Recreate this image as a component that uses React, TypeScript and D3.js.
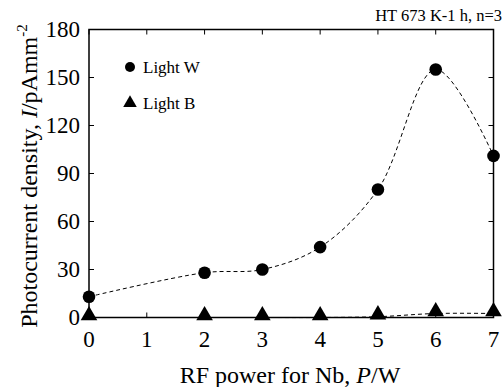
import React from "react";
import * as d3 from "d3";

const powers = [0, 2, 3, 4, 5, 6, 7];
const lightW = [13, 28, 30, 44, 80, 155, 101];
const lightB = [0, 0, 0, 0, 0.5, 2.5, 2.5];
const xTicks = [0, 1, 2, 3, 4, 5, 6, 7];
const yTicks = [0, 30, 60, 90, 120, 150, 180];

const W = 503;
const H = 387;
const M = { left: 89, right: 493.5, top: 29.5, bottom: 317.5 };
const FONT = "Liberation Serif, serif";

export default function App() {
  const x = d3.scaleLinear().domain([0, 7]).range([M.left, M.right]);
  const y = d3.scaleLinear().domain([0, 180]).range([M.bottom, M.top]);
  const line = d3
    .line<number>()
    .x((_, i) => x(powers[i]))
    .y((d) => y(d))
    .curve(d3.curveCatmullRom.alpha(0.5));
  const tri = d3.symbol(d3.symbolTriangle, 120)();
  const triSmall = d3.symbol(d3.symbolTriangle, 80)();
  const tl = 5;
  return (
    <svg
      width={W}
      height={H}
      style={{ position: "absolute", left: 0, top: 0, background: "#fff", fontFamily: FONT }}
    >
      <rect x={0} y={0} width={W} height={H} fill="#fff" />
      <path d={line(lightW) || ""} fill="none" stroke="#000" strokeWidth={1} strokeDasharray="4,3" />
      <path d={line(lightB) || ""} fill="none" stroke="#000" strokeWidth={1} strokeDasharray="4,3" />
      <rect
        x={M.left}
        y={M.top}
        width={M.right - M.left}
        height={M.bottom - M.top}
        fill="none"
        stroke="#000"
        strokeWidth={1.5}
      />
      {xTicks.map((t) => (
        <g key={"x" + t}>
          <line x1={x(t)} x2={x(t)} y1={M.bottom} y2={M.bottom - tl} stroke="#000" strokeWidth={1} />
          <line x1={x(t)} x2={x(t)} y1={M.top} y2={M.top + tl} stroke="#000" strokeWidth={1} />
          <text x={x(t)} y={347} fontSize={23} textAnchor="middle" fill="#000" fontFamily={FONT}>
            {t}
          </text>
        </g>
      ))}
      {yTicks.map((t) => (
        <g key={"y" + t}>
          <line x1={M.left} x2={M.left + tl} y1={y(t)} y2={y(t)} stroke="#000" strokeWidth={1} />
          <line x1={M.right} x2={M.right - tl} y1={y(t)} y2={y(t)} stroke="#000" strokeWidth={1} />
          <text x={80} y={y(t) + 7.8} fontSize={23} textAnchor="end" fill="#000" fontFamily={FONT}>
            {t}
          </text>
        </g>
      ))}
      {lightW.map((v, i) => (
        <circle key={"w" + i} cx={x(powers[i])} cy={y(v)} r={6.3} fill="#000" />
      ))}
      {lightB.map((v, i) => (
        <path key={"b" + i} d={tri || ""} transform={`translate(${x(powers[i])},${y(v) - 2})`} fill="#000" />
      ))}
      <circle cx={130} cy={67} r={5} fill="#000" />
      <text x={143} y={73} fontSize={17} fill="#000" fontFamily={FONT}>
        Light W
      </text>
      <path d={triSmall || ""} transform="translate(130,103)" fill="#000" />
      <text x={143} y={109} fontSize={17} fill="#000" fontFamily={FONT}>
        Light B
      </text>
      <text x={502} y={21} fontSize={16.5} textAnchor="end" fill="#000" fontFamily={FONT}>
        HT 673 K-1 h, n=3
      </text>
      <text x={290} y={383} fontSize={24} textAnchor="middle" fill="#000" fontFamily={FONT}>
        RF power for Nb, <tspan fontStyle="italic">P</tspan>/W
      </text>
      <text
        transform={`translate(37,176) rotate(-90)`}
        fontSize={24}
        textAnchor="middle"
        fill="#000"
        fontFamily={FONT}
      >
        Photocurrent density, <tspan fontStyle="italic">I</tspan>/pAmm
        <tspan dy={-10} fontSize={15}>-2</tspan>
      </text>
    </svg>
  );
}
